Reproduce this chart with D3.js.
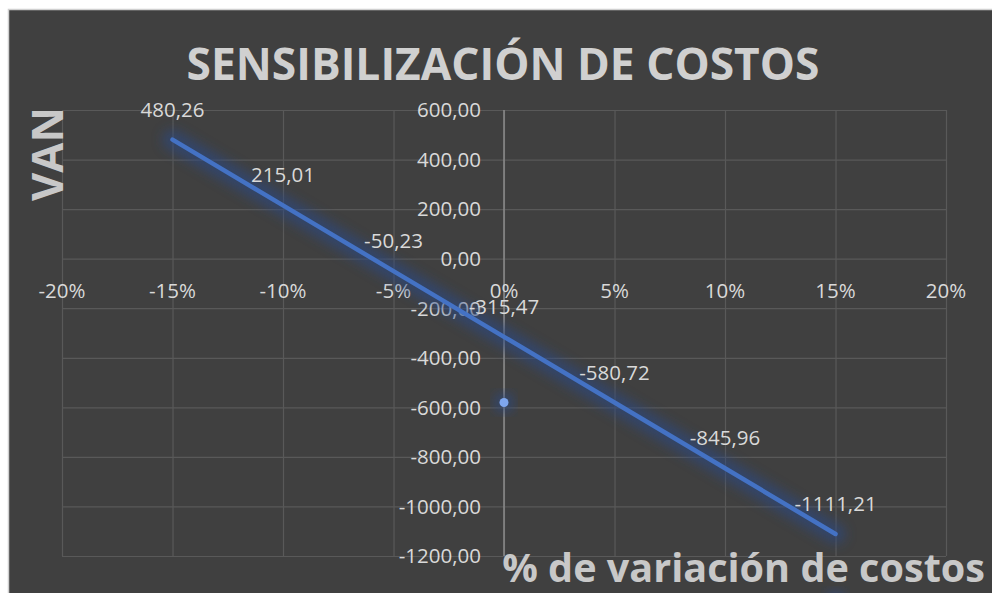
<!DOCTYPE html>
<html lang="es">
<head>
<meta charset="utf-8">
<title>Sensibilización de costos</title>
<style>
  body { margin: 0; background: #ffffff; }
  text { font-family: "Open Sans", sans-serif; }
</style>
</head>
<body>
<script src="https://cdn.jsdelivr.net/npm/d3@7"></script>
<script>
// data
var variacion = [-0.15, -0.10, -0.05, 0, 0.05, 0.10, 0.15];
var van = [480.26, 215.01, -50.23, -315.47, -580.72, -845.96, -1111.21];
var extraX = [0, 0.15];
var extraY = [-580.72, -1380];
var xTicks = [-0.20, -0.15, -0.10, -0.05, 0, 0.05, 0.10, 0.15, 0.20];
var yTicks = [600, 400, 200, 0, -200, -400, -600, -800, -1000, -1200];

var W = 992, H = 593;
var svg = d3.select("body").append("svg")
    .attr("width", W)
    .attr("height", H);

var defs = svg.append("defs");
defs.append("filter").attr("id", "glow")
    .attr("x", "-20%").attr("y", "-20%").attr("width", "140%").attr("height", "140%")
    .append("feGaussianBlur").attr("stdDeviation", 6);

// chart background
svg.append("rect")
    .attr("x", 8.5).attr("y", 9.5)
    .attr("width", W).attr("height", H)
    .attr("fill", "#404040")
    .attr("stroke", "#d0d0d0")
    .attr("stroke-width", 1.5);

var x = d3.scaleLinear().domain([-0.2, 0.2]).range([62, 946]);
var y = d3.scaleLinear().domain([-1200, 600]).range([556, 110]);

var fmt = function(v) { return d3.format(".2f")(v).replace(".", ",").replace("\u2212", "-"); };
var pct = function(v) { return d3.format(".0%")(v).replace("\u2212", "-"); };

// gridlines
svg.append("g")
    .attr("transform", "translate(0," + y(-1200) + ")")
    .call(d3.axisBottom(x).tickValues(xTicks).tickSize(-(y(-1200) - y(600))).tickFormat(""))
    .call(function(g) {
        g.select(".domain").remove();
        g.selectAll("line").attr("stroke", "#595959").attr("stroke-width", 1.2);
    });
svg.append("g")
    .attr("transform", "translate(" + x(-0.2) + ",0)")
    .call(d3.axisLeft(y).tickValues(yTicks).tickSize(-(x(0.2) - x(-0.2))).tickFormat(""))
    .call(function(g) {
        g.select(".domain").remove();
        g.selectAll("line").attr("stroke", "#595959").attr("stroke-width", 1.2);
    });

// vertical axis line at 0%
svg.append("line")
    .attr("x1", x(0)).attr("x2", x(0))
    .attr("y1", y(600)).attr("y2", y(-1200))
    .attr("stroke", "#8c8c8c").attr("stroke-width", 1.5);

// x tick labels
svg.append("g").selectAll("text")
    .data(xTicks)
    .enter().append("text")
    .attr("x", function(d) { return x(d); })
    .attr("y", 298)
    .attr("text-anchor", "middle")
    .attr("fill", "#d9d9d9")
    .attr("font-size", 20.5)
    .text(pct);

// y tick labels
svg.append("g").selectAll("text")
    .data(yTicks)
    .enter().append("text")
    .attr("x", 481)
    .attr("y", function(d) { return y(d); })
    .attr("dy", "0.36em")
    .attr("text-anchor", "end")
    .attr("fill", "#d9d9d9")
    .attr("font-size", 20.5)
    .text(fmt);

// line with glow
var pts = variacion.map(function(v, i) { return [v, van[i]]; });
var line = d3.line().x(function(d) { return x(d[0]); }).y(function(d) { return y(d[1]); });

svg.append("path")
    .datum(pts)
    .attr("d", line)
    .attr("fill", "none")
    .attr("stroke", "#2c4a85")
    .attr("stroke-width", 20)
    .attr("stroke-linecap", "round")
    .attr("opacity", 0.6)
    .attr("filter", "url(#glow)");
svg.append("path")
    .datum(pts)
    .attr("d", line)
    .attr("fill", "none")
    .attr("stroke", "#4472c4")
    .attr("stroke-width", 4.5)
    .attr("stroke-linecap", "round");

// extra points
var extra = extraX.map(function(v, i) { return [v, extraY[i]]; });
svg.append("g").selectAll("circle.glow")
    .data(extra)
    .enter().append("circle")
    .attr("cx", function(d) { return x(d[0]); })
    .attr("cy", function(d) { return y(d[1]); })
    .attr("r", 10)
    .attr("fill", "#2c4a85")
    .attr("opacity", 0.65)
    .attr("filter", "url(#glow)");
svg.append("g").selectAll("circle.dot")
    .data(extra)
    .enter().append("circle")
    .attr("cx", function(d) { return x(d[0]); })
    .attr("cy", function(d) { return y(d[1]); })
    .attr("r", 4.5)
    .attr("fill", "#7ea6ee");

// data labels
svg.append("g").selectAll("text")
    .data(pts)
    .enter().append("text")
    .attr("x", function(d) { return x(d[0]); })
    .attr("y", function(d) { return y(d[1]) - 23; })
    .attr("text-anchor", "middle")
    .attr("fill", "#d9d9d9")
    .attr("font-size", 20.5)
    .text(function(d) { return fmt(d[1]); });

// titles, scaled to the reference widths
function fitText(sel, width) {
    var w = sel.node().getComputedTextLength();
    var fs = parseFloat(sel.attr("font-size"));
    sel.attr("font-size", fs * width / w);
}

var title = svg.append("text")
    .attr("x", 503).attr("y", 80)
    .attr("text-anchor", "middle")
    .attr("font-weight", "bold")
    .attr("font-size", 46)
    .attr("fill", "#d0d0d0")
    .text("SENSIBILIZACIÓN DE COSTOS");
fitText(title, 633);

var yTitle = svg.append("text")
    .attr("transform", "translate(63,154) rotate(-90)")
    .attr("text-anchor", "middle")
    .attr("font-weight", "bold")
    .attr("font-size", 46)
    .attr("fill", "#c8c8c8")
    .text("VAN");
fitText(yTitle, 94);

var xTitle = svg.append("text")
    .attr("x", 985).attr("y", 582)
    .attr("text-anchor", "end")
    .attr("font-weight", "bold")
    .attr("font-size", 40)
    .attr("fill", "#c8c8c8")
    .text("% de variación de costos");
fitText(xTitle, 483);
</script>
</body>
</html>
